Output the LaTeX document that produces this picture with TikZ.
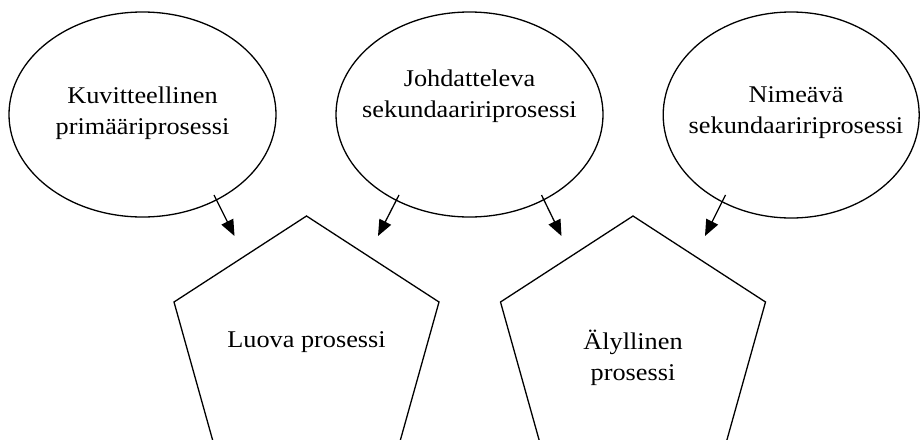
\documentclass[tikz,border=0pt]{standalone}
\usepackage{fontspec}
\setmainfont{Liberation Serif}[FakeStretch=1.095]
\usetikzlibrary{shapes.geometric,arrows.meta}
\begin{document}
\begin{tikzpicture}[x=1pt,y=-1pt,
  line width=1.3pt,
  bubble/.style={draw,ellipse,inner sep=0pt},
  label/.style={align=center,inner sep=0pt,font=\fontsize{24}{31}\selectfont},
  flow/.style={-{Triangle[length=16pt,width=13pt]},line width=1.3pt},
  shape5/.style={draw,line join=miter}]
\useasboundingbox (0,0) rectangle (920,439);
\clip (0,0) rectangle (920,439);

% input processes
\node[bubble,minimum width=267pt,minimum height=205pt] (e1) at (142.5,114.5) {};
\node[bubble,minimum width=267pt,minimum height=205pt] (e2) at (469.5,114.5) {};
\node[bubble,minimum width=256pt,minimum height=206pt] (e3) at (791.2,115) {};
\node[label] (t1) at (142.5,113) {Kuvitteellinen\\primääriprosessi};
\node[label] (t2) at (469.5,96) {Johdatteleva\\sekundaaririprosessi};
\node[label] (t3) at (796,113) {Nimeävä\\sekundaaririprosessi};

% resulting processes (pentagons run past the lower edge)
\draw[shape5] (306.5,216) -- (439,302) -- (392,470) -- (221,470) -- (174,302) -- cycle;
\draw[shape5] (633,216) -- (765.5,302) -- (718.5,470) -- (547.5,470) -- (500.5,302) -- cycle;
\node[label] (p1) at (306.5,342) {Luova prosessi};
\node[label] (p2) at (633,358) {Älyllinen\\prosessi};

% arrows from the bubbles
\coordinate (a1s) at (214,195);   \coordinate (a1e) at (234.5,236);
\coordinate (a2s) at (399,195);   \coordinate (a2e) at (378,236);
\coordinate (a3s) at (541.5,195); \coordinate (a3e) at (561.5,236);
\coordinate (a4s) at (725.5,195); \coordinate (a4e) at (705,236);
\draw[flow] (a1s) -- (a1e);
\draw[flow] (a2s) -- (a2e);
\draw[flow] (a3s) -- (a3e);
\draw[flow] (a4s) -- (a4e);
\end{tikzpicture}
\end{document}
